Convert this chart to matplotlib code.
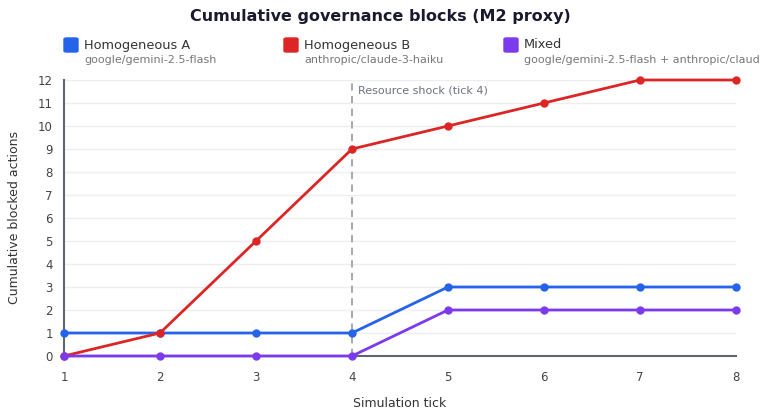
import matplotlib.pyplot as plt
from matplotlib.patches import FancyBboxPatch

ticks = [1, 2, 3, 4, 5, 6, 7, 8]
homogeneous_a = [1, 1, 1, 1, 3, 3, 3, 3]
homogeneous_b = [0, 1, 5, 9, 10, 11, 12, 12]
mixed = [0, 0, 0, 0, 2, 2, 2, 2]

series_names = ['Homogeneous A', 'Homogeneous B', 'Mixed']
series_models = ['google/gemini-2.5-flash', 'anthropic/claude-3-haiku',
                 'google/gemini-2.5-flash + anthropic/claude-3-haiku']
colors = ['#2563eb', '#dc2626', '#7c3aed']
shock_tick = 4

plt.rcParams['font.family'] = ['DejaVu Sans']

fig = plt.figure(figsize=(7.6, 4.2), dpi=100)
ax = fig.add_axes([64 / 760, 1 - 356 / 420, 672 / 760, 276 / 420])

for vals, c in zip([homogeneous_a, homogeneous_b, mixed], colors):
    ax.plot(ticks, vals, color=c, lw=2, marker='o', ms=5, clip_on=False, zorder=3)

ax.axvline(shock_tick, color='#9ca3af', lw=1.3, ls=(0, (4, 3)), zorder=2)
ax.text(shock_tick + 0.06, 11.55, 'Resource shock (tick 4)', fontsize=8,
        color='#6b7280', va='center', ha='left')

ax.set_xlim(1, 8)
ax.set_ylim(0, 12)
ax.set_xticks(ticks)
ax.set_yticks(range(0, 13))
ax.grid(axis='y', color='#eeeeee', lw=1)
ax.set_axisbelow(True)
for s in ['top', 'right']:
    ax.spines[s].set_visible(False)
for s in ['left', 'bottom']:
    ax.spines[s].set_color('#5f6670')
    ax.spines[s].set_linewidth(1.5)
ax.tick_params(length=0, labelsize=8.5, labelcolor='#444444', pad=8)
ax.tick_params(axis='x', pad=11)
ax.set_xlabel('Simulation tick', fontsize=9, color='#333333', labelpad=9)
ax.set_ylabel('Cumulative blocked actions', fontsize=9, color='#333333', labelpad=12)

fig.text(0.5, 1 - 17 / 420, 'Cumulative governance blocks (M2 proxy)', ha='center',
         va='center', fontsize=11.5, fontweight='heavy', color='#1a1a2e')

legend_x = [64, 284, 504]
for x0, name, model, c in zip(legend_x, series_names, series_models, colors):
    fig.patches.append(FancyBboxPatch((x0 / 760, 1 - 52 / 420), 14 / 760, 14 / 420,
                                      boxstyle='round,pad=0,rounding_size=0.003',
                                      transform=fig.transFigure, color=c))
    fig.text((x0 + 20) / 760, 1 - 45 / 420, name, fontsize=9.3, color='#333333', va='center')
    fig.text((x0 + 20) / 760, 1 - 60 / 420, model, fontsize=8, color='#777777', va='center')

fig.savefig('out.png', dpi=100)
